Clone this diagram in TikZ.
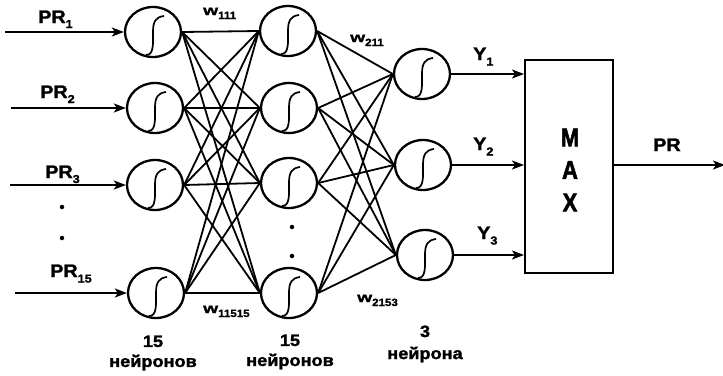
\documentclass[tikz,border=0pt]{standalone}
\usepackage{fontspec}
\setmainfont{Liberation Sans}[FakeStretch=1.1, BoldFeatures={FakeBold=1.5}]
\newfontfamily\maxfont{Liberation Sans}[FakeStretch=0.85, BoldFeatures={FakeBold=2}]
\usetikzlibrary{shapes.geometric,arrows.meta}

% label with a lowered index in a smaller size
\newcommand\idx[3]{#1\raisebox{-#3}{\fontsize{11.5}{11.5}\selectfont #2}}
% weight symbol w with its index
\newcommand\wgt[1]{\scalebox{1.25}[1]{w}\raisebox{-4pt}{\fontsize{10.5}{10.5}\selectfont #1}}

\tikzset{
  neuron/.style={ellipse, draw, line width=2.3pt, minimum width=56pt,
    minimum height=50pt, inner sep=0pt},
  link/.style={line width=1.8pt},
  arr/.style={line width=2pt, -{Stealth[length=12pt,width=9pt,inset=3pt]}},
  lbl/.style={font=\bfseries\fontsize{18}{20}\selectfont, inner sep=0pt, anchor=base west},
  wlbl/.style={font=\bfseries\fontsize{14}{16}\selectfont, inner sep=0pt, anchor=base west},
  laycap/.style={font=\bfseries\fontsize{16.5}{20}\selectfont, inner sep=0pt, align=center},
  sigm/.pic={\draw[line width=1.7pt] (-7,23) .. controls (1,23) and (0,12) .. (0,0)
      .. controls (0,-11) and (3,-15) .. (11,-16);},
  dotm/.style={circle, fill, inner sep=0pt, minimum size=4.5pt}
}

\begin{document}
\begin{tikzpicture}[x=1pt, y=-1pt]
\useasboundingbox (0,0) rectangle (723,375);

% first layer
\node[neuron] (a1) at (153,32) {};
\node[neuron] (a2) at (155,108) {};
\node[neuron] (a3) at (155,185) {};
\node[neuron] (a4) at (156,293) {};
% second layer
\node[neuron] (b1) at (288,31) {};
\node[neuron] (b2) at (289,108) {};
\node[neuron] (b3) at (289,183) {};
\node[neuron] (b4) at (289,293) {};
% output layer
\node[neuron] (c1) at (422,74) {};
\node[neuron] (c2) at (423,165) {};
\node[neuron] (c3) at (425,255) {};

\foreach \n in {a1,a2,a3,a4,b1,b2,b3,b4,c1,c2,c3}
  \path (\n.center) pic {sigm};

% full connections between layers
\foreach \s in {a1,a2,a3,a4}
  \foreach \t in {b1,b2,b3,b4}
    \draw[link] (\s.east) -- (\t.west);
\foreach \s in {b1,b2,b3,b4}
  \foreach \t in {c1,c2,c3}
    \draw[link] (\s.east) -- (\t.west);

% inputs
\coordinate (i1) at (5,32);
\coordinate (i2) at (11,108);
\coordinate (i3) at (10,185);
\coordinate (i4) at (15,293);
\draw[arr] (i1) -- (a1.west);
\draw[arr] (i2) -- (a2.west);
\draw[arr] (i3) -- (a3.west);
\draw[arr] (i4) -- (a4.west);

\node[lbl] (p1) at (38,23) {\idx{PR}{1}{5pt}};
\node[lbl] (p2) at (40,98) {\idx{PR}{2}{5pt}};
\node[lbl] (p3) at (45,178) {\idx{PR}{3}{5pt}};
\node[lbl] (p4) at (50,277) {\idx{PR}{15}{5.5pt}};

\node[dotm] (d1) at (62,207) {};
\node[dotm] (d2) at (62,238) {};
\node[dotm] (d3) at (292,227) {};
\node[dotm] (d4) at (292,256) {};

% weights
\node[wlbl] (w1) at (203,15) {\wgt{111}};
\node[wlbl] (w2) at (350,42) {\wgt{211}};
\node[wlbl] (w3) at (203,313) {\wgt{11515}};
\node[wlbl] (w4) at (357,302) {\wgt{2153}};

% selector block
\node[draw, line width=2pt, minimum width=88pt, minimum height=213pt,
  inner sep=0pt] (mx) at (569,166.5) {};
\node[font=\maxfont\bfseries\fontsize{26}{32.5}\selectfont, align=center,
  inner sep=0pt] (mxt) at (570,170) {M\\A\\X};

\draw[arr] (c1.east) -- (c1.east -| mx.west);
\draw[arr] (c2.east) -- (c2.east -| mx.west);
\draw[arr] (c3.east) -- (c3.east -| mx.west);

\node[lbl] (y1) at (473,60) {\idx{Y}{1}{5.5pt}};
\node[lbl] (y2) at (473,150) {\idx{Y}{2}{5.5pt}};
\node[lbl] (y3) at (477,239) {\idx{Y}{3}{5.5pt}};

\coordinate (out) at (725,165);
\draw[arr] (mx.east |- out) -- (out);
\node[lbl] (pr) at (653,151) {PR};

% layer captions
\node[laycap] (k1) at (153,353) {15\\нейронов};
\node[laycap] (k2) at (290,352) {15\\нейронов};
\node[laycap, font=\bfseries\fontsize{16.5}{22}\selectfont] (k3) at (425,344) {3\\нейрона};
\end{tikzpicture}
\end{document}
